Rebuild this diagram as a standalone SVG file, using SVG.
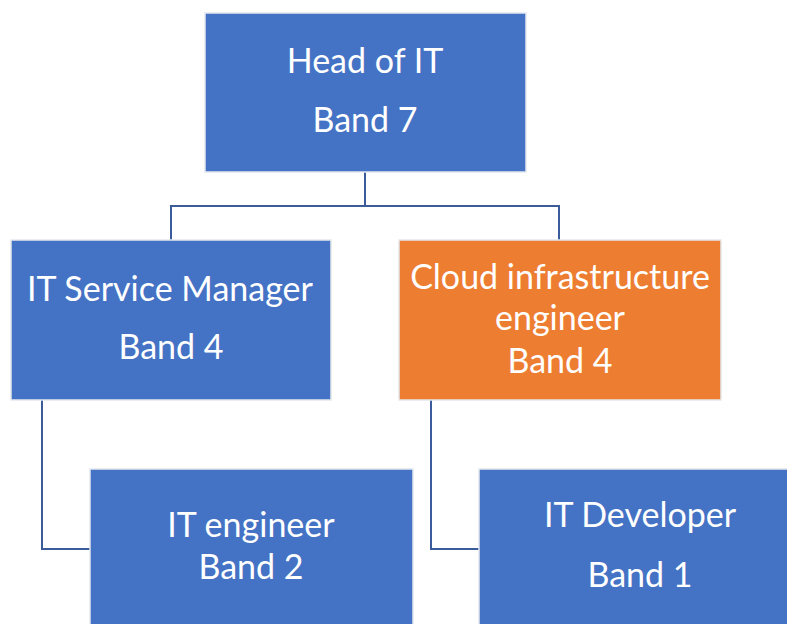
<svg xmlns="http://www.w3.org/2000/svg" width="787" height="624" viewBox="0 0 787 624">
<style>
.box{fill:#4472C4;stroke:#E4E8EE;stroke-width:1.5}
.orange{fill:#ED7D31}
.lbl{font-family:Lato,"Liberation Sans",sans-serif;font-size:34px;fill:#FFFFFF;text-anchor:middle}
.conn{fill:none;stroke:#3B5C9A;stroke-width:2}
</style>
<rect width="787" height="624" fill="#FFFFFF"/>
<g id="connectors">
<path class="conn" d="M365,172 V206 M171,240 V206 H559 V240"/>
<path class="conn" d="M42,400 V549 H90"/>
<path class="conn" d="M431,400 V549 H479"/>
</g>
<g id="head-of-it">
<rect class="box" x="205" y="13" width="321" height="159"/>
<text class="lbl" x="365" y="73">Head of IT</text>
<text class="lbl" x="365" y="132">Band 7</text>
</g>
<g id="it-service-manager">
<rect class="box" x="11" y="240" width="320" height="160"/>
<text class="lbl" x="170" y="301">IT Service Manager</text>
<text class="lbl" x="171" y="359">Band 4</text>
</g>
<g id="cloud-infrastructure-engineer">
<rect class="box orange" x="399" y="240" width="322" height="160"/>
<text class="lbl" x="560" y="289">Cloud infrastructure</text>
<text class="lbl" x="560" y="330">engineer</text>
<text class="lbl" x="560" y="373">Band 4</text>
</g>
<g id="it-engineer">
<rect class="box" x="90" y="469" width="323" height="170"/>
<text class="lbl" x="251" y="537">IT engineer</text>
<text class="lbl" x="251" y="579">Band 2</text>
</g>
<g id="it-developer">
<rect class="box" x="479" y="469" width="330" height="170"/>
<text class="lbl" x="640" y="527">IT Developer</text>
<text class="lbl" x="640" y="587">Band 1</text>
</g>
</svg>
